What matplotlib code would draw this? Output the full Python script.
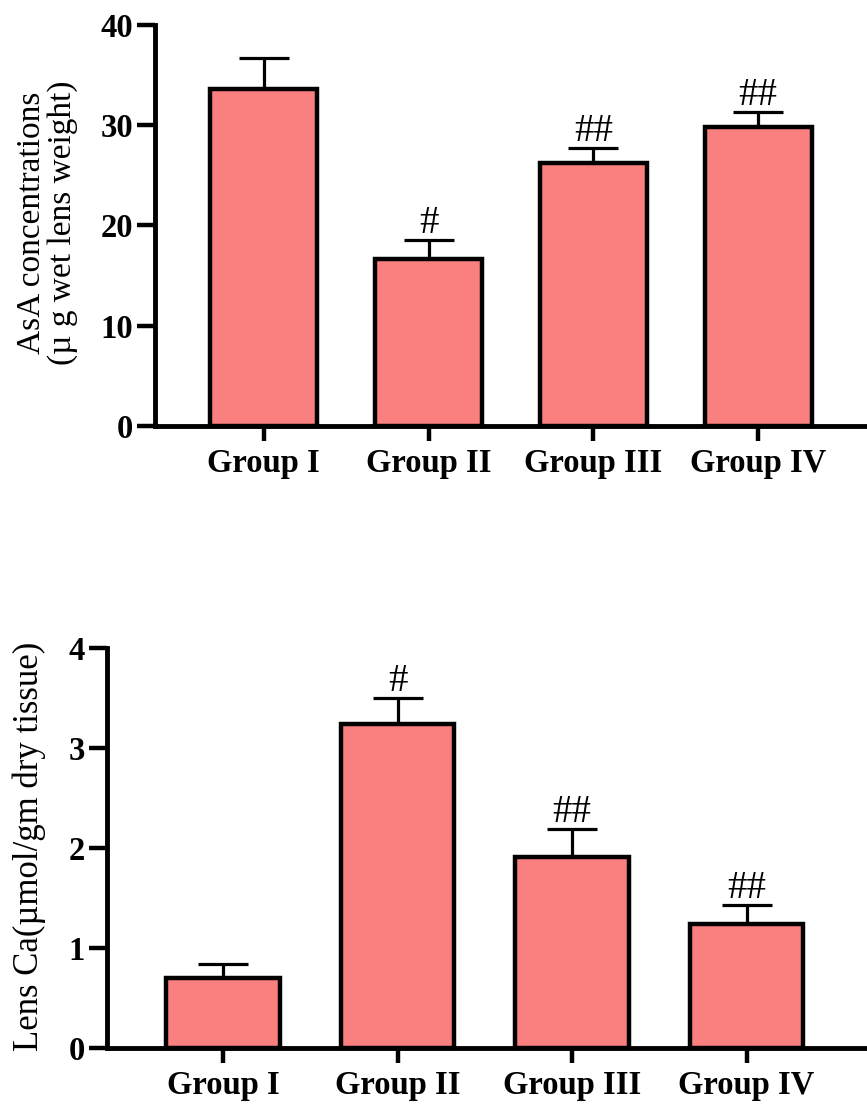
import matplotlib
matplotlib.use("Agg")
import matplotlib.pyplot as plt
import numpy as np

plt.rcParams['font.family'] = ['Liberation Serif', 'DejaVu Serif']

groups = ['Group I', 'Group II', 'Group III', 'Group IV']

# Lens ascorbic acid (AsA), mean and SEM
asa_mean = [33.6, 16.7, 26.2, 29.8]
asa_sem = [3.1, 1.9, 1.5, 1.5]
asa_marks = ['', '#', '##', '##']

# Lens calcium, mean and SEM
ca_mean = [0.70, 3.24, 1.91, 1.24]
ca_sem = [0.14, 0.26, 0.28, 0.19]
ca_marks = ['', '#', '##', '##']

asa_ticks = [0, 10, 20, 30, 40]
ca_ticks = [0, 1, 2, 3, 4]

BAR_COLOR = '#FA7F7F'
W, H = 867, 1106

fig = plt.figure(figsize=(W / 100, H / 100), dpi=100)


def px_axes(left, top, right, bottom):
    return fig.add_axes([left / W, 1 - bottom / H, (right - left) / W, (bottom - top) / H])


def draw_panel(ax, means, sems, marks, ticks, xlim):
    x = np.arange(len(groups))
    ax.bar(x, means, width=0.65, color=BAR_COLOR, edgecolor='black',
           linewidth=3.2, zorder=3, clip_on=False)
    ax.errorbar(x, means, yerr=[np.zeros(len(sems)), sems], fmt='none',
                ecolor='black', elinewidth=2.3, capsize=18, capthick=2.3,
                zorder=2, clip_on=False)
    for xi, m, s, t in zip(x, means, sems, marks):
        if t:
            ax.annotate(t, (xi, m + s), xytext=(0, 5), textcoords='offset points',
                        ha='center', va='baseline', fontsize=28,
                        annotation_clip=False)
    ax.set_xlim(*xlim)
    ax.set_ylim(ticks[0], ticks[-1])
    ax.set_yticks(ticks)
    ax.set_xticks(x)
    ax.set_xticklabels(groups, fontsize=23.5, fontweight='bold')
    for lbl in ax.get_yticklabels():
        lbl.set_fontsize(23.5)
        lbl.set_fontweight('bold')
    ax.spines['top'].set_visible(False)
    ax.spines['right'].set_visible(False)
    for sp in ('left', 'bottom'):
        ax.spines[sp].set_linewidth(3.5)
        ax.spines[sp].set_zorder(4)
    ax.tick_params(axis='y', direction='out', length=13, width=3.2, pad=3)
    ax.tick_params(axis='x', direction='out', length=11, width=3.2, pad=5)
    ax.patch.set_visible(False)


ax1 = px_axes(155, 25, 867, 426)
draw_panel(ax1, asa_mean, asa_sem, asa_marks, asa_ticks, (-0.66, 3.66))

ax2 = px_axes(107, 648, 867, 1048)
draw_panel(ax2, ca_mean, ca_sem, ca_marks, ca_ticks, (-0.665, 3.69))

fig.text(47 / W, 1 - 223 / H, 'AsA concentrations\n(\u00b5 g wet lens weight)',
         rotation=90, ha='center', va='center', fontsize=24,
         linespacing=1.0, rotation_mode='anchor')
fig.text(29 / W, 1 - 846 / H, 'Lens Ca(\u00b5mol/gm dry tissue)',
         rotation=90, ha='center', va='center', fontsize=25,
         rotation_mode='anchor')

fig.savefig('out.png', dpi=100)
